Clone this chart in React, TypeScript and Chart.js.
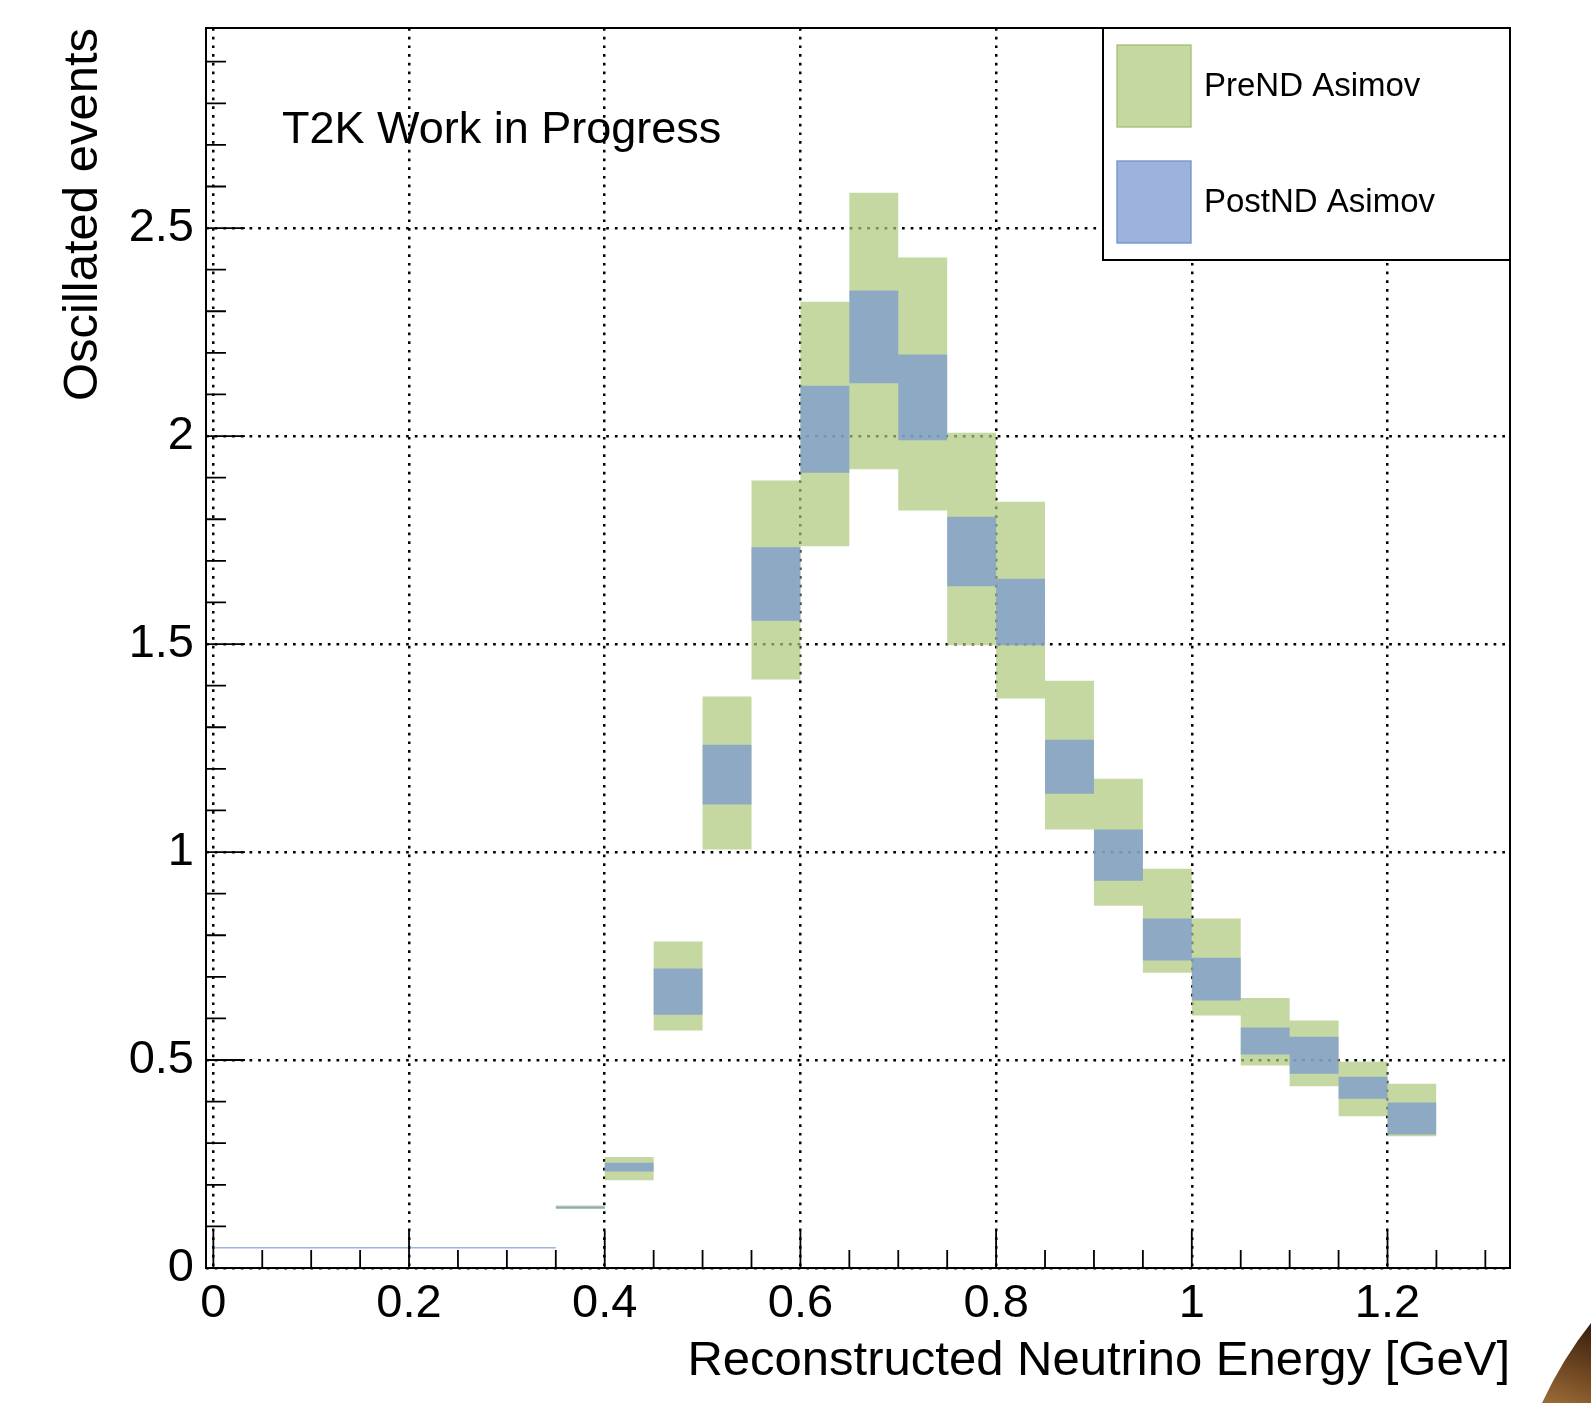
import React, { useEffect, useRef } from 'react';
import { Chart, registerables } from 'chart.js';

Chart.register(...registerables);

// ---- data ----
const binEdges = [0, 0.35, 0.4, 0.45, 0.5, 0.55, 0.6, 0.65, 0.7, 0.75, 0.8, 0.85, 0.9, 0.95, 1.0, 1.05, 1.1, 1.15, 1.2, 1.25];
const preNDLow = [0.0488, 0.142, 0.211, 0.571, 1.006, 1.415, 1.735, 1.92, 1.821, 1.497, 1.369, 1.054, 0.871, 0.71, 0.607, 0.487, 0.437, 0.365, 0.317];
const preNDHigh = [0.0488, 0.15, 0.267, 0.785, 1.374, 1.893, 2.323, 2.585, 2.429, 2.008, 1.842, 1.412, 1.176, 0.96, 0.84, 0.649, 0.595, 0.496, 0.443];
const postNDLow = [0.0468, 0.143, 0.232, 0.609, 1.114, 1.556, 1.912, 2.127, 1.99, 1.639, 1.497, 1.14, 0.931, 0.739, 0.643, 0.513, 0.467, 0.407, 0.321];
const postNDHigh = [0.0505, 0.148, 0.253, 0.72, 1.258, 1.733, 2.121, 2.35, 2.196, 1.806, 1.657, 1.27, 1.054, 0.84, 0.746, 0.578, 0.556, 0.46, 0.398];
const xTickValues = [0, 0.2, 0.4, 0.6, 0.8, 1, 1.2];
const yTickValues = [0, 0.5, 1, 1.5, 2, 2.5];
const xTitle = 'Reconstructed Neutrino Energy [GeV]';
const yTitle = 'Oscillated events';
const labelText = 'T2K Work in Progress';
const preLabel = 'PreND Asimov';
const postLabel = 'PostND Asimov';

const FONT = '"Liberation Sans", Arial, Helvetica, sans-serif';
const greenFill = 'rgba(172,199,121,0.7)';
const greenLine = 'rgba(160,192,110,0.85)';
const blueFill = 'rgba(121,151,208,0.73)';
const blueLine = 'rgba(110,142,205,0.85)';

function steps(values: number[]) {
  const pts = values.map((v, i) => ({ x: binEdges[i], y: v }));
  pts.push({ x: binEdges[binEdges.length - 1], y: values[values.length - 1] });
  return pts;
}

const decorPlugin = {
  id: 'rootDecor',
  afterDraw(chart: any) {
    const { ctx, chartArea } = chart;
    const { left, right, top, bottom } = chartArea;
    const xs = chart.scales.x;
    const ys = chart.scales.y;
    ctx.save();
    // inward ticks
    ctx.strokeStyle = '#000';
    ctx.lineWidth = 1.8;
    ctx.beginPath();
    for (let i = 0; i <= 26; i++) {
      const v = i * 0.05;
      const px = xs.getPixelForValue(v);
      const len = i % 4 === 0 ? 37 : 18;
      ctx.moveTo(px, bottom);
      ctx.lineTo(px, bottom - len);
    }
    for (let i = 0; i <= 29; i++) {
      const v = i * 0.1;
      const py = ys.getPixelForValue(v);
      const len = i % 5 === 0 ? 39 : 20;
      ctx.moveTo(left, py);
      ctx.lineTo(left + len, py);
    }
    ctx.stroke();
    // frame
    ctx.lineWidth = 2;
    ctx.strokeRect(left, top, right - left, bottom - top);

    // T2K label
    ctx.fillStyle = '#000';
    ctx.font = `45px ${FONT}`;
    ctx.textAlign = 'left';
    ctx.textBaseline = 'alphabetic';
    ctx.fillText(labelText, left + 76, top + 115);

    // legend
    const lx0 = right - 407;
    const ly0 = top;
    const lw = 407;
    const lh = 232;
    ctx.fillStyle = '#fff';
    ctx.fillRect(lx0, ly0, lw, lh);
    ctx.lineWidth = 2;
    ctx.strokeStyle = '#000';
    ctx.strokeRect(lx0, ly0, lw, lh);
    const ds = chart.data.datasets;
    const entries = [ds[3], ds[1]];
    entries.forEach((d: any, k: number) => {
      const sy = ly0 + 17 + k * 116;
      ctx.fillStyle = d.backgroundColor;
      ctx.fillRect(lx0 + 14, sy, 74, 82);
      ctx.strokeStyle = d.legendBorder;
      ctx.lineWidth = 1.5;
      ctx.strokeRect(lx0 + 14, sy, 74, 82);
      ctx.fillStyle = '#000';
      ctx.font = `33px ${FONT}`;
      ctx.textBaseline = 'middle';
      ctx.fillText(d.label, lx0 + 101, sy + 41.5);
    });

    // brown corner artefact of the screenshot
    const W = chart.width;
    const H = chart.height;
    const g = ctx.createLinearGradient(W - 10, H - 80, W - 40, H);
    g.addColorStop(0, '#3a210f');
    g.addColorStop(0.5, '#6b4420');
    g.addColorStop(1, '#9a6a36');
    ctx.fillStyle = g;
    ctx.beginPath();
    ctx.moveTo(W, H - 80);
    ctx.quadraticCurveTo(W - 28, H - 45, W - 49, H);
    ctx.lineTo(W, H);
    ctx.closePath();
    ctx.fill();
    ctx.restore();
  },
};

export default function App() {
  const ref = useRef<HTMLCanvasElement>(null);
  useEffect(() => {
    if (!ref.current) return;
    const common = { borderWidth: 0, borderColor: 'rgba(0,0,0,0)', pointRadius: 0, pointHoverRadius: 0, stepped: true as const };
    const chart = new Chart(ref.current, {
      type: 'line',
      data: {
        datasets: [
          { ...common, label: 'postLow', data: steps(postNDLow), fill: false },
          { ...common, label: postLabel, data: steps(postNDHigh), fill: '-1', backgroundColor: blueFill, legendBorder: blueLine } as any,
          { ...common, label: 'preLow', data: steps(preNDLow), fill: false },
          { ...common, label: preLabel, data: steps(preNDHigh), fill: '-1', backgroundColor: greenFill, legendBorder: greenLine } as any,
        ],
      },
      options: {
        animation: false,
        responsive: false,
        devicePixelRatio: 1,
        layout: { padding: { left: 0, top: 28, right: 81, bottom: 0 } },
        plugins: { legend: { display: false }, tooltip: { enabled: false } },
        scales: {
          x: {
            type: 'linear',
            min: -0.0075,
            max: 1.3252,
            afterBuildTicks: (s: any) => { s.ticks = xTickValues.map((v) => ({ value: v })); },
            afterFit: (s: any) => { s.height = 135; s.paddingLeft = 0; s.paddingRight = 0; },
            grid: { color: '#000', lineWidth: 2.5, drawTicks: false },
            border: { display: false, dash: [2.7, 6] },
            ticks: {
              color: '#000', padding: 8, maxRotation: 0, autoSkip: false,
              font: { family: FONT, size: 47 },
              callback: (v: any) => String(Number(Number(v).toFixed(2))),
            },
            title: { display: true, text: xTitle, align: 'end', color: '#000', font: { family: FONT, size: 49 }, padding: { top: 0, bottom: 12 } },
          },
          y: {
            type: 'linear',
            min: 0,
            max: 2.981,
            afterBuildTicks: (s: any) => { s.ticks = yTickValues.map((v) => ({ value: v })); },
            afterFit: (s: any) => { s.width = 206; s.paddingTop = 0; s.paddingBottom = 0; },
            grid: { color: '#000', lineWidth: 2.5, drawTicks: false },
            border: { display: false, dash: [2.7, 6] },
            ticks: {
              color: '#000', padding: 12,
              font: { family: FONT, size: 47 },
              callback: (v: any) => String(Number(Number(v).toFixed(2))),
            },
            title: { display: true, text: yTitle, align: 'end', color: '#000', font: { family: FONT, size: 49 }, padding: { top: 54, bottom: 0 } },
          },
        },
      } as any,
      plugins: [decorPlugin],
    });
    return () => chart.destroy();
  }, []);
  return (
    <canvas
      ref={ref}
      width={1591}
      height={1403}
      style={{ position: 'fixed', left: 0, top: 0, width: '1591px', height: '1403px', display: 'block' }}
    />
  );
}
